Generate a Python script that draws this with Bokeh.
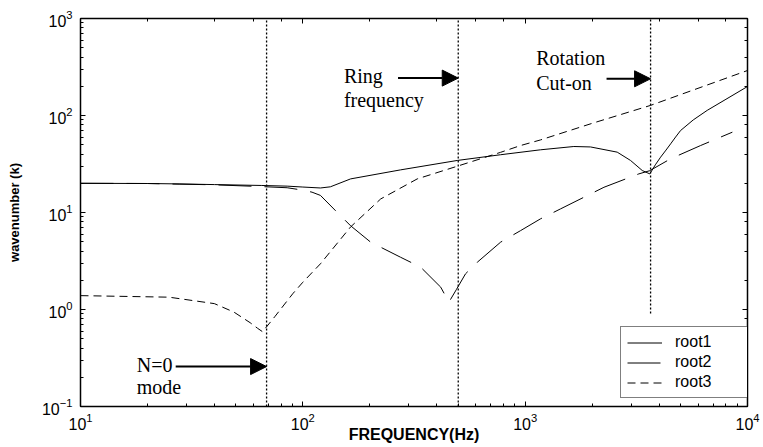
from bokeh.plotting import figure
from bokeh.models import (LogAxis, Label, Arrow, NormalHead, Legend, LegendItem,
                          Range1d, CustomJSTickFormatter)
from bokeh.embed import file_html
from bokeh.resources import INLINE

# ---- data ----
root1_f = [10, 20, 28, 40, 65, 85, 100, 120, 133, 164, 275, 495, 775, 1172, 1655,
           1968, 2594, 2978, 3362, 3636, 3850, 4066, 4300, 4510, 4750, 5000, 5700,
           6590, 8000, 10000]
root1_k = [20.0, 19.9, 19.7, 19.4, 19.0, 18.7, 18.3, 17.9, 18.4, 22.2, 27.5, 34.4, 39.4,
           44.3, 47.9, 47.4, 41.9, 34.4, 27.1, 25.0, 31.0, 37.2, 44.0, 51.0, 60.0, 70.0,
           90.0, 113, 147, 199]

root2_f = [10, 20, 28, 40, 65, 85, 100, 110, 120, 140, 164, 202, 275, 339, 417, 454,
           490, 539, 609, 775, 953, 1172, 1443, 2261, 3244, 3636, 4510, 6150, 8550]
root2_k = [20.0, 19.9, 19.6, 19.3, 18.5, 18.0, 17.0, 16.2, 15.0, 10.5, 7.3, 4.94, 3.46,
           2.73, 1.70, 1.19, 1.6, 2.33, 3.07, 4.94, 6.5, 8.6, 10.9, 18.2, 25.0, 27.0,
           35.8, 49.0, 67.3]

root3_f = [10, 25, 40, 49, 58, 62.6, 65.9, 75, 90, 100, 120, 164, 224, 327, 495, 775,
           953, 1172, 2000, 3660, 10000]
root3_k = [1.39, 1.34, 1.15, 0.94, 0.73, 0.64, 0.59, 0.85, 1.45, 1.91, 2.96, 7.1, 13.8,
           22.2, 30.0, 41.7, 49.0, 56.0, 83.0, 127, 291]

# vertical marker lines: N=0 mode, ring frequency, rotation cut-on
marker_f = [68.7, 500, 3665]
marker_bottom = [0.1, 0.1, 0.91]
marker_top = [1000, 1000, 1000]

# annotation texts (anchored in data coordinates)
note_texts = ["N=0", "mode", "Ring", "frequency", "Rotation", "Cut-on"]
note_x = [17.9, 17.9, 153, 153, 1122, 1122]
note_y = [0.265, 0.158, 258, 146, 387, 214]

# arrows: start frequency, level; each ends at the corresponding marker line
arrow_start_f = [26.8, 268, 2323]
arrow_k = [0.258, 243, 239]

x_range = (10, 1e4)
y_range = (0.1, 1e3)

p = figure(width=763, height=447, x_axis_type="log", y_axis_type="log",
           x_range=Range1d(*x_range), y_range=Range1d(*y_range),
           output_backend="svg", toolbar_location=None,
           min_border_left=80, min_border_right=16, min_border_top=18,
           min_border_bottom=41)
p.background_fill_color = "white"
p.border_fill_color = "white"
p.xgrid.visible = False
p.ygrid.visible = False
p.outline_line_color = "black"
p.outline_line_width = 1

for ax in (p.xaxis[0], p.yaxis[0]):
    ax.major_tick_in = 5
    ax.major_tick_out = 0
    ax.minor_tick_in = 3
    ax.minor_tick_out = 0
    ax.major_tick_line_color = "black"
    ax.minor_tick_line_color = "black"
    ax.axis_line_color = "black"
    ax.axis_line_width = 1.5
    ax.major_label_text_font = "Liberation Sans"
    ax.major_label_text_font_size = "16px"
    ax.major_label_text_color = "black"
    ax.axis_label_text_font = "Liberation Sans"
    ax.axis_label_text_font_style = "bold"
    ax.axis_label_text_color = "black"

p.xaxis.axis_label = "FREQUENCY(Hz)"
p.xaxis.axis_label_text_font_size = "16px"
p.xaxis.major_label_standoff = 6
p.xaxis.axis_label_standoff = -7
p.yaxis.axis_label = "wavenumber (k)"
p.yaxis.axis_label_text_font_size = "13px"
p.yaxis.major_label_standoff = 8
p.yaxis.axis_label_standoff = 17

blank = CustomJSTickFormatter(code="return ''")
for loc in ("above", "right"):
    ax = LogAxis(formatter=blank, major_tick_in=5, major_tick_out=0,
                 minor_tick_in=3, minor_tick_out=0, axis_line_color="black",
                 major_tick_line_color="black", minor_tick_line_color="black",
                 axis_line_width=1.5, major_label_standoff=0)
    p.add_layout(ax, loc)

# marker lines
p.segment(x0=marker_f, y0=marker_bottom, x1=marker_f, y1=marker_top,
          line_color="black", line_width=1.3, line_dash="2 2")

r1 = p.line(root1_f, root1_k, line_color="black", line_width=1)
r2 = p.line(root2_f, root2_k, line_color="black", line_width=1, line_dash="33 13")
r3 = p.line(root3_f, root3_k, line_color="black", line_width=1, line_dash="8 5")

for t, x, y in zip(note_texts, note_x, note_y):
    p.add_layout(Label(x=x, y=y, text=t, text_font="Liberation Serif",
                       text_font_size="20px", text_color="black",
                       text_baseline="alphabetic", text_align="left"))

for xs, xe, k in zip(arrow_start_f, marker_f, arrow_k):
    p.add_layout(Arrow(x_start=xs, y_start=k, x_end=xe, y_end=k,
                       line_color="black", line_width=2,
                       end=NormalHead(size=16, fill_color="black",
                                      line_color="black", line_width=1)))

legend = Legend(items=[LegendItem(label="root1", renderers=[r1]),
                       LegendItem(label="root2", renderers=[r2]),
                       LegendItem(label="root3", renderers=[r3])],
                location=(540, 8), orientation="vertical",
                padding=6, margin=0, spacing=2,
                glyph_width=35, glyph_height=15, label_height=15,
                label_width=67, label_standoff=13,
                label_text_font="Liberation Sans", label_text_font_size="16px",
                label_text_color="black",
                border_line_color="black", border_line_width=1,
                background_fill_color="white", background_fill_alpha=1)
p.add_layout(legend, "center")

open("out.html", "w").write(file_html(p, INLINE))
